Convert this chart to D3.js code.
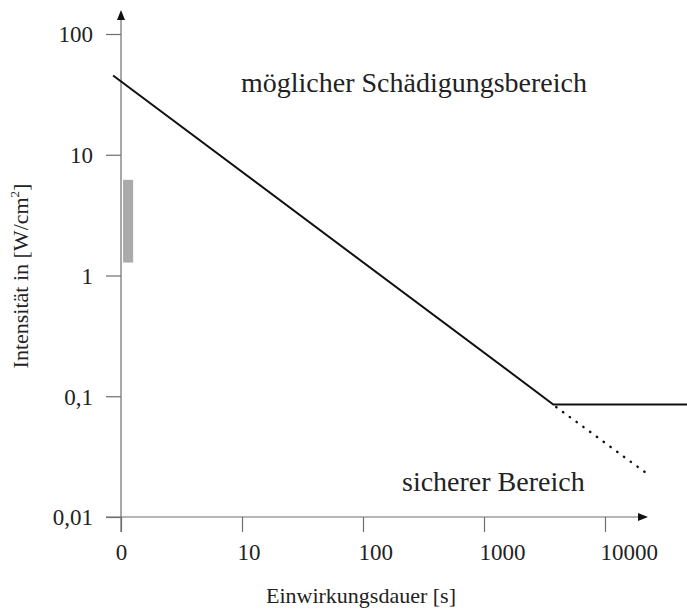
<!DOCTYPE html>
<html>
<head>
<meta charset="utf-8">
<script src="https://cdn.jsdelivr.net/npm/d3@7"></script>
<style>
  body { margin: 0; background: #fff; }
  svg text { font-family: "Liberation Serif", "Times New Roman", serif; fill: #222; }
</style>
</head>
<body>
<div id="chart"></div>
<script>
// Einwirkungsdauer [s] vs Intensität [W/cm²], both log scaled
var xTicks = [1, 10, 100, 1000, 10000];
var xTickLabels = ["0", "10", "100", "1000", "10000"];
var yTicks = [0.01, 0.1, 1, 10, 100];
var yTickLabels = ["0,01", "0,1", "1", "10", "100"];

// limit curve (solid) and its continuation (dotted)
var limitTime = [0.86, 3740, 47600];
var limitIntensity = [45.3, 0.0855, 0.0855];
var extTime = [3950, 21800];
var extIntensity = [0.0815, 0.0232];

// gray bar near t = 1 s
var barTime = [1.04, 1.26];
var barIntensity = [1.28, 6.2];

var width = 687, height = 612;

var svg = d3.select("#chart").append("svg")
    .attr("width", width)
    .attr("height", height);

var x = d3.scaleLog().domain([1, 10000]).range([121, 605]);
var y = d3.scaleLog().domain([0.01, 100]).range([517, 34]);

var tickLen = 15;
var axisColor = "#6e6e6e";

// axes lines (extended past origin and with arrow heads)
svg.append("line")
    .attr("x1", x(1)).attr("x2", x(1))
    .attr("y1", y(0.01) + tickLen).attr("y2", y(100) - 14)
    .attr("stroke", axisColor).attr("stroke-width", 1.2);
svg.append("line")
    .attr("x1", x(1) - tickLen).attr("x2", x(10000) + 36)
    .attr("y1", y(0.01)).attr("y2", y(0.01))
    .attr("stroke", axisColor).attr("stroke-width", 1.2);

var ytip = y(100) - 24, xtip = x(10000) + 43;
svg.append("path")
    .attr("d", "M" + x(1) + "," + ytip + "L" + (x(1) - 4) + "," + (ytip + 10) + "L" + (x(1) + 4) + "," + (ytip + 10) + "Z")
    .attr("fill", "#111");
svg.append("path")
    .attr("d", "M" + xtip + "," + y(0.01) + "L" + (xtip - 10) + "," + (y(0.01) - 4) + "L" + (xtip - 10) + "," + (y(0.01) + 4) + "Z")
    .attr("fill", "#111");

var yAxis = d3.axisLeft(y)
    .tickValues(yTicks)
    .tickSize(tickLen)
    .tickPadding(13)
    .tickFormat(function (d, i) { return yTickLabels[i]; });

var xAxis = d3.axisBottom(x)
    .tickValues(xTicks)
    .tickSize(tickLen)
    .tickPadding(12)
    .tickFormat(function (d, i) { return xTickLabels[i]; });

var gy = svg.append("g")
    .attr("transform", "translate(" + x(1) + ",0)")
    .call(yAxis);
var gx = svg.append("g")
    .attr("transform", "translate(0," + y(0.01) + ")")
    .call(xAxis);

[gx, gy].forEach(function (g) {
    g.select(".domain").remove();
    g.selectAll(".tick line").attr("stroke", axisColor).attr("stroke-width", 1.2);
    g.selectAll(".tick text")
        .attr("font-size", 23)
        .style("font-family", "'Liberation Serif', 'Times New Roman', serif")
        .attr("fill", "#1a1a1a");
});
gy.selectAll(".tick text").attr("dy", "0.34em");
// x labels sit just right of their tick, except the "0" which is centred
gx.selectAll(".tick text")
    .attr("dy", "0.71em")
    .attr("text-anchor", function (d) { return d === 1 ? "middle" : "start"; })
    .attr("x", function (d) { return d === 1 ? 0 : -5; });

// gray bar
svg.append("rect")
    .attr("x", x(barTime[0]))
    .attr("width", x(barTime[1]) - x(barTime[0]))
    .attr("y", y(barIntensity[1]))
    .attr("height", y(barIntensity[0]) - y(barIntensity[1]))
    .attr("fill", "#aaaaaa");

var line = d3.line()
    .x(function (d) { return x(d[0]); })
    .y(function (d) { return y(d[1]); });

svg.append("path")
    .datum(d3.zip(limitTime, limitIntensity))
    .attr("d", line)
    .attr("fill", "none")
    .attr("stroke", "#111")
    .attr("stroke-width", 2);

svg.append("path")
    .datum(d3.zip(extTime, extIntensity))
    .attr("d", line)
    .attr("fill", "none")
    .attr("stroke", "#111")
    .attr("stroke-width", 2.4)
    .attr("stroke-linecap", "round")
    .attr("stroke-dasharray", "0.4,8");

// annotations
svg.append("text")
    .attr("x", 241).attr("y", 92)
    .attr("font-size", 28)
    .text("möglicher Schädigungsbereich");

svg.append("text")
    .attr("x", 402).attr("y", 491)
    .attr("font-size", 28)
    .text("sicherer Bereich");

svg.append("text")
    .attr("x", 361).attr("y", 603)
    .attr("text-anchor", "middle")
    .attr("font-size", 22)
    .text("Einwirkungsdauer [s]");

var ylab = svg.append("text")
    .attr("transform", "translate(28,276) rotate(-90)")
    .attr("text-anchor", "middle")
    .attr("font-size", 22);
ylab.append("tspan").text("Intensität in [W/cm");
ylab.append("tspan").attr("font-size", 13).attr("dy", -9).text("2");
ylab.append("tspan").attr("dy", 9).text("]");
</script>
</body>
</html>
